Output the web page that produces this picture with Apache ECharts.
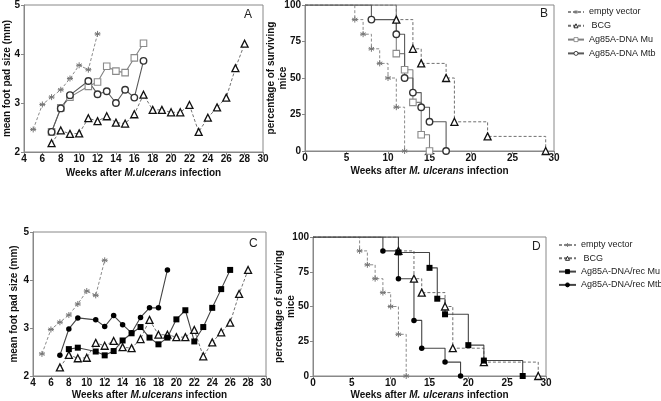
<!DOCTYPE html>
<html><head><meta charset="utf-8">
<script src="https://cdn.jsdelivr.net/npm/echarts@6/dist/echarts.min.js"></script>
<style>html,body{margin:0;padding:0;background:#fff}#c{width:661px;height:401px}</style>
</head><body><div id="c"></div>
<script>
// ---- Foot pad size (panels A and C) ----
const fpEmptyWeeks = [5,6,7,8,9,10,11,12];
const fpEmpty = [2.46,2.97,3.12,3.27,3.50,3.77,3.68,4.41];
const fpBcgWeeks = [7,8,9,10,11,12,13,14,15,16,17,18,19,20,21,22,23,24,25,26,27,28];
const fpBcg = [2.18,2.44,2.37,2.38,2.69,2.63,2.73,2.60,2.58,2.77,3.17,2.86,2.86,2.81,2.81,2.96,2.41,2.70,2.91,3.11,3.71,4.21];
const fpMuWeeks = [7,8,9,11,12,13,14,15,16,17];
const fpMu = [2.41,2.90,3.12,3.34,3.43,3.75,3.65,3.62,3.92,4.22];
const fpMtbWeeks = [7,8,9,11,12,13,14,15,16,17];
const fpMtb = [2.41,2.89,3.16,3.45,3.18,3.24,3.00,3.27,3.11,3.86];
const fpRecMuWeeks = [8,9,11,12,13,14,15,16,17,18,19,20,21,22,23,24,25,26];
const fpRecMu = [2.56,2.59,2.51,2.43,2.52,2.74,2.89,3.02,2.80,2.66,2.80,3.18,3.37,2.72,3.02,3.42,3.81,4.21];
const fpRecMtbWeeks = [7,8,9,11,12,13,14,15,16,17,18,19];
const fpRecMtb = [2.43,2.98,3.21,3.17,3.03,3.26,3.07,2.90,3.22,3.42,3.42,4.21];
// ---- Survival (panels B and D) ----
const svEmptyWeeks = [0,6,7,8,9,10,11,12];
const svEmpty = [100,90,80,70,60,50,30,0];
const svBcgWeeks = [0,11,13,14,17,18,22,29];
const svBcg = [100,90,70,60,50,20,10,0];
const svMuWeeks = [0,11,12,13,14,15];
const svMu = [100,66.7,55.6,33.3,11.1,0];
const svMtbWeeks = [0,8,11,12,13,14,15,17];
const svMtb = [100,90,80,50,40,30,20,0];
const svRecMuWeeks = [0,11,15,16,17,20,22,27];
const svRecMu = [100,88.9,77.8,55.6,44.4,22.2,11.1,0];
const svRecMtbWeeks = [0,9,11,13,14,17,19];
const svRecMtb = [100,90,70,40,20,10,0];
// ---- Labels ----
const nmEmpty = 'empty vector', nmBcg = ' BCG', nmMu = 'Ag85A-DNA Mu', nmMtb = 'Ag85A-DNA Mtb';
const nmRecMu = 'Ag85A-DNA/rec Mu', nmRecMtb = 'Ag85A-DNA/rec Mtb';
const panelLetters = ['A','B','C','D'];

const FONT = "'Liberation Sans', Arial, sans-serif";
const ASTER = 'path://M0,-5L0,5M-4.33,-2.5L4.33,2.5M-4.33,2.5L4.33,-2.5M-5,0L5,0';

function pts(xs, ys, skipFirst) {
  return xs.map((x,i) => (skipFirst && i===0) ? {value:[x,ys[i]], symbol:'none'} : [x, ys[i]]);
}
const styles = {
  empty: {symbol: ASTER, symbolSize: 6, lineStyle:{color:'#8a8a8a', width:1, type:[3,2]}, itemStyle:{color:'#8a8a8a', borderColor:'#777', borderWidth:1}},
  bcg: {symbol:'triangle', symbolSize: 7, lineStyle:{color:'#707070', width:1, type:[3,2]}, itemStyle:{color:'#fff', borderColor:'#111', borderWidth:1.3}},
  mu: {symbol:'rect', symbolSize: 6.5, lineStyle:{color:'#808080', width:1.1}, itemStyle:{color:'#fff', borderColor:'#8a8a8a', borderWidth:1.1}},
  mtb: {symbol:'circle', symbolSize: 6.5, lineStyle:{color:'#5a5a5a', width:1.1}, itemStyle:{color:'#fff', borderColor:'#333', borderWidth:1.4}},
  recMu: {symbol:'rect', symbolSize: 6, lineStyle:{color:'#444', width:1.1}, itemStyle:{color:'#000', borderColor:'#000', borderWidth:0}},
  recMtb: {symbol:'circle', symbolSize: 5.5, lineStyle:{color:'#444', width:1.1}, itemStyle:{color:'#000', borderColor:'#000', borderWidth:0}}
};
function ser(name, st, gi, xs, ys, step) {
  const s = styles[st];
  return {
    type:'line', name, xAxisIndex: gi, yAxisIndex: gi,
    data: pts(xs, ys, !!step), step: step ? 'end' : false,
    symbol: s.symbol, symbolSize: s.symbolSize, showAllSymbol: true,
    lineStyle: s.lineStyle, itemStyle: s.itemStyle, animation:false, z: 3
  };
}

const grids = [
  {left:22, top:4, width:241, height:148},
  {left:305, top:4, width:249, height:147},
  {left:33, top:232, width:233, height:144},
  {left:313, top:237, width:233, height:140}
].map(g => Object.assign(g, {show:true, borderColor:'#888', borderWidth:1, backgroundColor:'transparent'}));

const lblStyle = {fontSize:10, fontWeight:'bold', color:'#111', fontFamily: FONT};
function xName(txt, italic, rest) {
  return '{n|' + txt + '}{i|' + italic + '}{n|' + rest + '}';
}
function xAx(gi, min, max, interval, name, gap) {
  return {
    type:'value', gridIndex: gi, min, max, interval,
    name, nameLocation:'middle', nameGap: gap, nameMoveOverlap: false,
    nameTextStyle: {fontSize:10, fontWeight:'bold', color:'#111', fontFamily:FONT,
      rich:{n:{fontSize:10, fontWeight:'bold', color:'#111', fontFamily:FONT},
            i:{fontSize:10, fontWeight:'bold', fontStyle:'italic', color:'#111', fontFamily:FONT}}},
    axisLine:{show:true, onZero:false, lineStyle:{color:'#888'}},
    axisTick:{show:true, length:3, lineStyle:{color:'#888'}},
    axisLabel: Object.assign({margin:2}, lblStyle),
    splitLine:{show:false}
  };
}
function yAx(gi, min, max, interval, name, gap) {
  return {
    type:'value', gridIndex: gi, min, max, interval,
    name, nameLocation:'middle', nameGap: gap, nameRotate: 90, nameMoveOverlap: false,
    nameTextStyle: {fontSize:10, fontWeight:'bold', color:'#111', fontFamily:FONT, lineHeight:12},
    axisLine:{show:true, onZero:false, lineStyle:{color:'#888'}},
    axisTick:{show:true, length:3, lineStyle:{color:'#888'}},
    axisLabel: Object.assign({margin:4}, lblStyle),
    splitLine:{show:false}
  };
}
const nameFP = 'mean foot pad size (mm)';
const nameSV = 'percentage of surviving\nmice';

const xAxes = [
  xAx(0, 4, 30, 2, xName('Weeks after ', 'M.ulcerans', ' infection'), 16),
  xAx(1, 0, 30, 5, xName('Weeks after ', 'M. ulcerans', ' infection'), 15),
  xAx(2, 4, 30, 2, xName('Weeks after ', 'M.ulcerans', ' infection'), 14),
  xAx(3, 0, 30, 5, xName('Weeks after ', 'M. ulcerans', ' infection'), 14)
];
const yAxes = [
  yAx(0, 2, 5, 1, nameFP, 11),
  yAx(1, 0, 100, 25, nameSV, 16),
  yAx(2, 2, 5, 1, nameFP, 13),
  yAx(3, 0, 100, 25, nameSV, 16)
];

const series = [
  ser(nmEmpty,'empty',0,fpEmptyWeeks,fpEmpty),
  ser(nmBcg,'bcg',0,fpBcgWeeks,fpBcg),
  ser(nmMu,'mu',0,fpMuWeeks,fpMu),
  ser(nmMtb,'mtb',0,fpMtbWeeks,fpMtb),
  ser(nmEmpty,'empty',1,svEmptyWeeks,svEmpty,true),
  ser(nmBcg,'bcg',1,svBcgWeeks,svBcg,true),
  ser(nmMu,'mu',1,svMuWeeks,svMu,true),
  ser(nmMtb,'mtb',1,svMtbWeeks,svMtb,true),
  ser(nmEmpty,'empty',2,fpEmptyWeeks,fpEmpty),
  ser(nmBcg,'bcg',2,fpBcgWeeks,fpBcg),
  ser(nmRecMu,'recMu',2,fpRecMuWeeks,fpRecMu),
  ser(nmRecMtb,'recMtb',2,fpRecMtbWeeks,fpRecMtb),
  ser(nmEmpty,'empty',3,svEmptyWeeks,svEmpty,true),
  ser(nmBcg,'bcg',3,svBcgWeeks,svBcg,true),
  ser(nmRecMu,'recMu',3,svRecMuWeeks,svRecMu,true),
  ser(nmRecMtb,'recMtb',3,svRecMtbWeeks,svRecMtb,true)
];

const legTxt = {fontSize:9, color:'#222', fontFamily:FONT, lineHeight:12};
const legIcon = {borderWidth:0.9};
const legends = [
  {orient:'vertical', left:567, top:6, padding:0, itemWidth:16, itemHeight:5, itemGap:1.8, textStyle:legTxt,
   itemStyle:legIcon, data:[nmEmpty,nmBcg,nmMu,nmMtb], selectedMode:false},
  {orient:'vertical', left:558, top:239, padding:0, itemWidth:17, itemHeight:5, itemGap:1.3, textStyle:legTxt,
   itemStyle:legIcon, data:[nmEmpty,nmBcg,nmRecMu,nmRecMtb], selectedMode:false}
];

const letterPos = [[244,9],[540,8],[249,238],[532,241]];
const titles = panelLetters.map((t,i) => ({text:t, left:letterPos[i][0], top:letterPos[i][1], padding:0,
  textStyle:{fontSize:12, fontWeight:'normal', color:'#222', fontFamily:FONT}}));

const chart = echarts.init(document.getElementById('c'), null, {renderer:'canvas'});
chart.setOption({
  animation:false,
  textStyle:{fontFamily:FONT},
  title: titles,
  grid: grids, xAxis: xAxes, yAxis: yAxes, legend: legends, series
});
</script></body></html>
